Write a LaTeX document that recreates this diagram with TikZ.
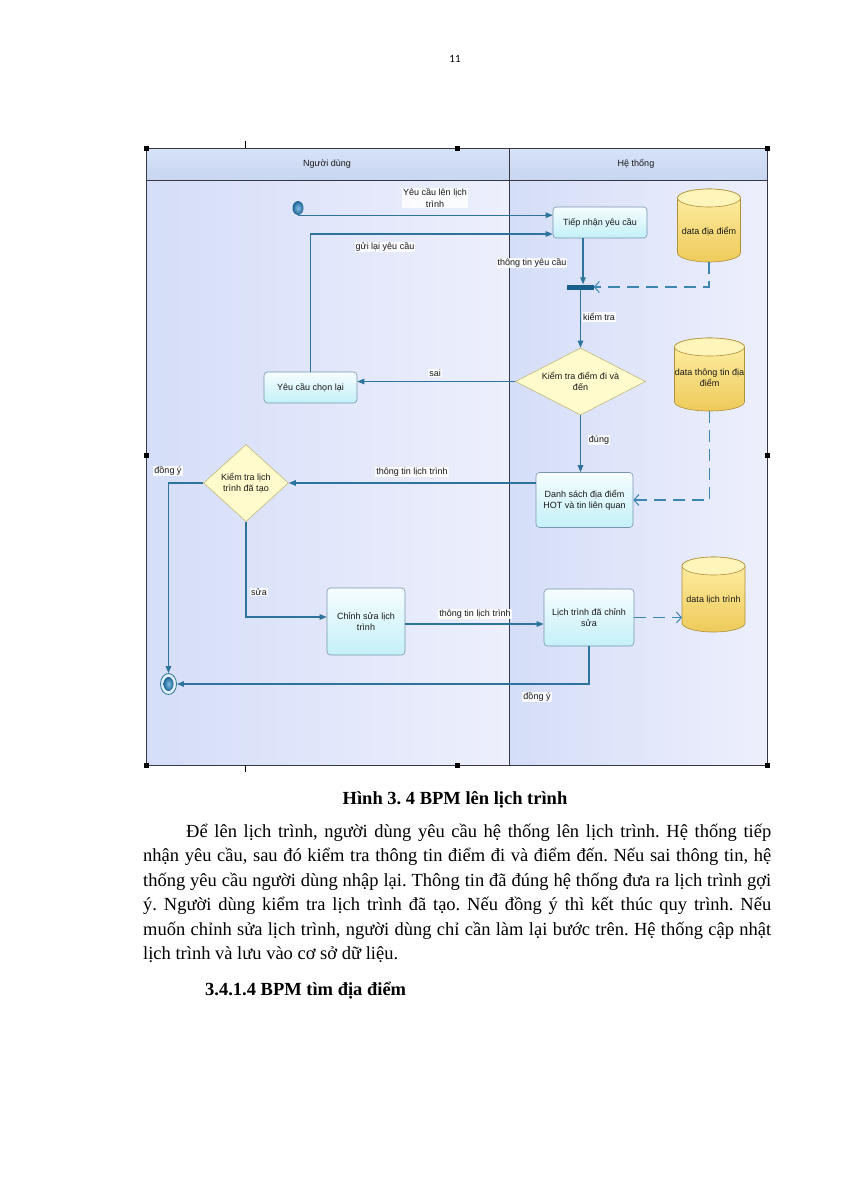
\documentclass[tikz,border=0pt]{standalone}
\usepackage{fontspec}
\setmainfont{Liberation Serif}
\newfontfamily\diagf{Liberation Sans}
\newfontfamily\bodyf{Liberation Serif}
\newfontfamily\pnumf{Carlito}
\usetikzlibrary{arrows.meta,shapes.geometric}
\frenchspacing

\definecolor{flow}{RGB}{45,115,155}
\definecolor{dashc}{RGB}{60,135,175}
\definecolor{laneA}{RGB}{213,222,248}
\definecolor{laneB}{RGB}{237,239,252}
\definecolor{headA}{RGB}{214,226,247}
\definecolor{headB}{RGB}{200,214,241}
\definecolor{boxA}{RGB}{246,253,255}
\definecolor{boxB}{RGB}{196,240,248}
\definecolor{boxD}{RGB}{120,150,175}
\definecolor{diaF}{RGB}{255,251,205}
\definecolor{diaD}{RGB}{195,185,120}
\definecolor{cylA}{RGB}{255,240,168}
\definecolor{cylB}{RGB}{238,202,90}
\definecolor{cylE}{RGB}{255,244,185}
\definecolor{cylD}{RGB}{175,145,60}
\definecolor{txt}{RGB}{25,25,25}
\definecolor{framec}{RGB}{55,55,70}
\definecolor{barc}{RGB}{25,95,140}

\newcommand{\mycyl}[5]{%
  \path[cylbody] (#2-#5,#3+9) -- (#2-#5,#4-9)
     arc[start angle=180,end angle=0,x radius=#5,y radius=9]
     -- (#2+#5,#3+9)
     arc[start angle=0,end angle=-180,x radius=#5,y radius=9] -- cycle;
  \path[cylend] (#2,#3+9) ellipse[x radius=#5,y radius=9];
  \coordinate (#1b) at (#2,#4);
  \coordinate (#1w) at (#2-#5,{(#3+#4)/2});
}
\newcommand{\handle}[2]{\fill[black] (#1-2.5,#2-2.5) rectangle (#1+2.5,#2+2.5);}

\begin{document}
\begin{tikzpicture}[x=1pt,y=-1pt,
  every node/.style={inner sep=0pt},
  lbl/.style={font=\diagf\fontsize{9}{11.2}\selectfont, text=txt, align=center},
  lblbg/.style={lbl, fill=white, fill opacity=0.85, text opacity=1, inner sep=1pt},
  actbox/.style={lbl, draw=boxD, line width=0.6pt, rounded corners=3.5pt,
     top color=boxA, bottom color=boxB},
  decis/.style={lbl, shape=diamond, draw=diaD, line width=0.6pt, fill=diaF},
  flowline/.style={draw=flow, line width=1.2pt, -{Triangle[length=7pt,width=5.5pt]}},
  dataline/.style={draw=dashc, line width=1.1pt, dash pattern=on 12pt off 7pt,
     -{Straight Barb[length=5pt,width=11pt,line width=1pt]}},
  cylbody/.style={draw=cylD, line width=0.6pt, top color=cylA, bottom color=cylB},
  cylend/.style={draw=cylD, line width=0.6pt, fill=cylE},
  bodytxt/.style={font=\bodyf\fontsize{18.5}{24.5}\selectfont, text=black},
]
\useasboundingbox (0,0) rectangle (848,1200);
\fill[white] (0,0) rectangle (848,1200);

% page number
\node[font=\pnumf\fontsize{11}{13}\selectfont, anchor=base] (pg) at (455,62) {11};

% lanes
\fill[left color=laneA, right color=laneB] (146,180) rectangle (509,765);
\fill[left color=laneA, right color=laneB] (509,180) rectangle (767,765);
\fill[top color=headA, bottom color=headB] (146,148) rectangle (767,180);
\draw[framec, line width=0.9pt] (146,148) rectangle (767,765);
\draw[framec, line width=0.8pt] (146,180) -- (767,180);
\draw[framec, line width=0.9pt] (509,148) -- (509,765);
\draw[black, line width=0.6pt] (245,141) -- (245,148);
\draw[black, line width=0.6pt] (245,765) -- (245,772);
\handle{146}{148}\handle{457}{148}\handle{767}{148}
\handle{146}{455}\handle{767}{455}
\handle{146}{765}\handle{457}{765}\handle{767}{765}

\node[lbl] (h1) at (327,164) {Người dùng};
\node[lbl] (h2) at (636,164) {Hệ thống};

% data stores
\mycyl{d1}{709}{189}{262}{31.5}
\node[lbl] (d1t) at (709,232) {data địa điểm};
\mycyl{d2}{709.5}{338}{411}{35}
\node[lbl] (d2t) at (709.5,378) {data thông tin địa\\điểm};
\mycyl{d3}{713.5}{557}{632}{31.5}
\node[lbl] (d3t) at (713.5,600) {data lịch trình};

% activities
\node[actbox, minimum width=94pt, minimum height=31pt] (tn) at (600,222.5) {Tiếp nhận yêu cầu};
\node[actbox, minimum width=93pt, minimum height=31pt] (yc) at (310.5,387.5) {Yêu cầu chọn lại};
\node[actbox, minimum width=97pt, minimum height=55pt] (ds) at (584.5,500) {Danh sách địa điểm\\HOT và tin liên quan};
\node[actbox, minimum width=78pt, minimum height=67pt] (cs) at (366,621.5) {Chỉnh sửa lịch\\trình};
\node[actbox, minimum width=90pt, minimum height=57pt] (ls) at (589,617.5) {Lịch trình đã chỉnh\\sửa};

\node[decis, aspect=2, minimum width=130pt, minimum height=67pt] (dk1) at (580.5,381.5) {Kiểm tra điểm đi và\\đến};
\node[decis, aspect=1.1, minimum width=85pt, minimum height=77pt] (dk2) at (246,483) {Kiểm tra lịch\\trình đã tạo};

\node[fill=barc, minimum width=27pt, minimum height=5pt] (sb) at (580,287) {};

\node[ellipse, minimum width=11pt, minimum height=14pt, inner color={rgb,255:red,130;green,190;blue,225},
      outer color={rgb,255:red,30;green,100;blue,150}] (st) at (298,208) {};
\node[ellipse, draw=flow, line width=0.8pt, fill={rgb,255:red,225;green,240;blue,248},
      minimum width=16pt, minimum height=21pt] (en) at (168.5,684) {};
\node[ellipse, minimum width=10pt, minimum height=14pt, inner color={rgb,255:red,130;green,190;blue,225},
      outer color={rgb,255:red,30;green,100;blue,150}] (en2) at (168.5,684) {};

% connectors
\draw[flowline] (st.south) -- (st.south -| tn.west);
\node[lblbg] (l1) at (435,198) {Yêu cầu lên lịch\\trình};
\draw[flowline] (yc.north) |- ([yshift=-11.5pt]tn.west);
\node[lblbg] (l2) at (385,247) {gửi lại yêu cầu};
\draw[flowline] ([xshift=-17pt]tn.south) -- ([xshift=-17pt]tn.south |- sb.north);
\node[lblbg] (l3) at (532,263) {thông tin yêu cầu};
\draw[dataline] (d1b) |- (sb.east);
\draw[flowline] (dk1.north |- sb.south) -- (dk1.north);
\node[lblbg] (l4) at (599,317) {kiểm tra};
\draw[flowline] (dk1.west) -- (dk1.west -| yc.east);
\node[lblbg] (l5) at (435,373) {sai};
\draw[flowline] (dk1.south) -- (dk1.south |- ds.north);
\node[lblbg] (l6) at (599,440) {đúng};
\draw[dataline] (d2b) |- (ds.east);
\draw[flowline] ([yshift=17pt]ds.west) -- (dk2.east);
\node[lblbg] (l7) at (412,472) {thông tin lịch trình};
\draw[flowline] (dk2.west) -| (en.north);
\node[lblbg] (l8) at (168,471) {đồng ý};
\draw[flowline] (dk2.south) |- ([yshift=4.5pt]cs.west);
\node[lblbg] (l9) at (259,592) {sửa};
\draw[flowline] ([yshift=-2.5pt]cs.east) -- ([yshift=-2.5pt]cs.east -| ls.west);
\node[lblbg] (l10) at (475,614) {thông tin lịch trình};
\draw[dataline] (ls.east) -- (ls.east -| d3w);
\draw[flowline] (ls.south) |- (en.east);
\node[lblbg] (l11) at (537,697) {đồng ý};

% caption and text
\node[font=\bodyf\bfseries\fontsize{18.5}{22}\selectfont, anchor=base] (cap) at (455,804) {Hình 3. 4 BPM lên lịch trình};
\node[bodytxt, anchor=base west] (t1) at (186,837) {\makebox[585pt][s]{Để lên lịch trình, người dùng yêu cầu hệ thống lên lịch trình. Hệ thống tiếp}};
\node[bodytxt, anchor=base west] (t2) at (143,861.5) {\makebox[628pt][s]{nhận yêu cầu, sau đó kiểm tra thông tin điểm đi và điểm đến. Nếu sai thông tin, hệ}};
\node[bodytxt, anchor=base west] (t3) at (143,886) {\makebox[628pt][s]{thống yêu cầu người dùng nhập lại. Thông tin đã đúng hệ thống đưa ra lịch trình gợi}};
\node[bodytxt, anchor=base west] (t4) at (143,910.5) {\makebox[628pt][s]{ý. Người dùng kiểm tra lịch trình đã tạo. Nếu đồng ý thì kết thúc quy trình. Nếu}};
\node[bodytxt, anchor=base west] (t5) at (143,935) {\makebox[628pt][s]{muốn chỉnh sửa lịch trình, người dùng chỉ cần làm lại bước trên. Hệ thống cập nhật}};
\node[bodytxt, anchor=base west] (t6) at (143,959.5) {lịch trình và lưu vào cơ sở dữ liệu.};
\node[font=\bodyf\bfseries\fontsize{18.5}{22}\selectfont, anchor=base west] (hd) at (205,995) {3.4.1.4 BPM tìm địa điểm};
\end{tikzpicture}
\end{document}
